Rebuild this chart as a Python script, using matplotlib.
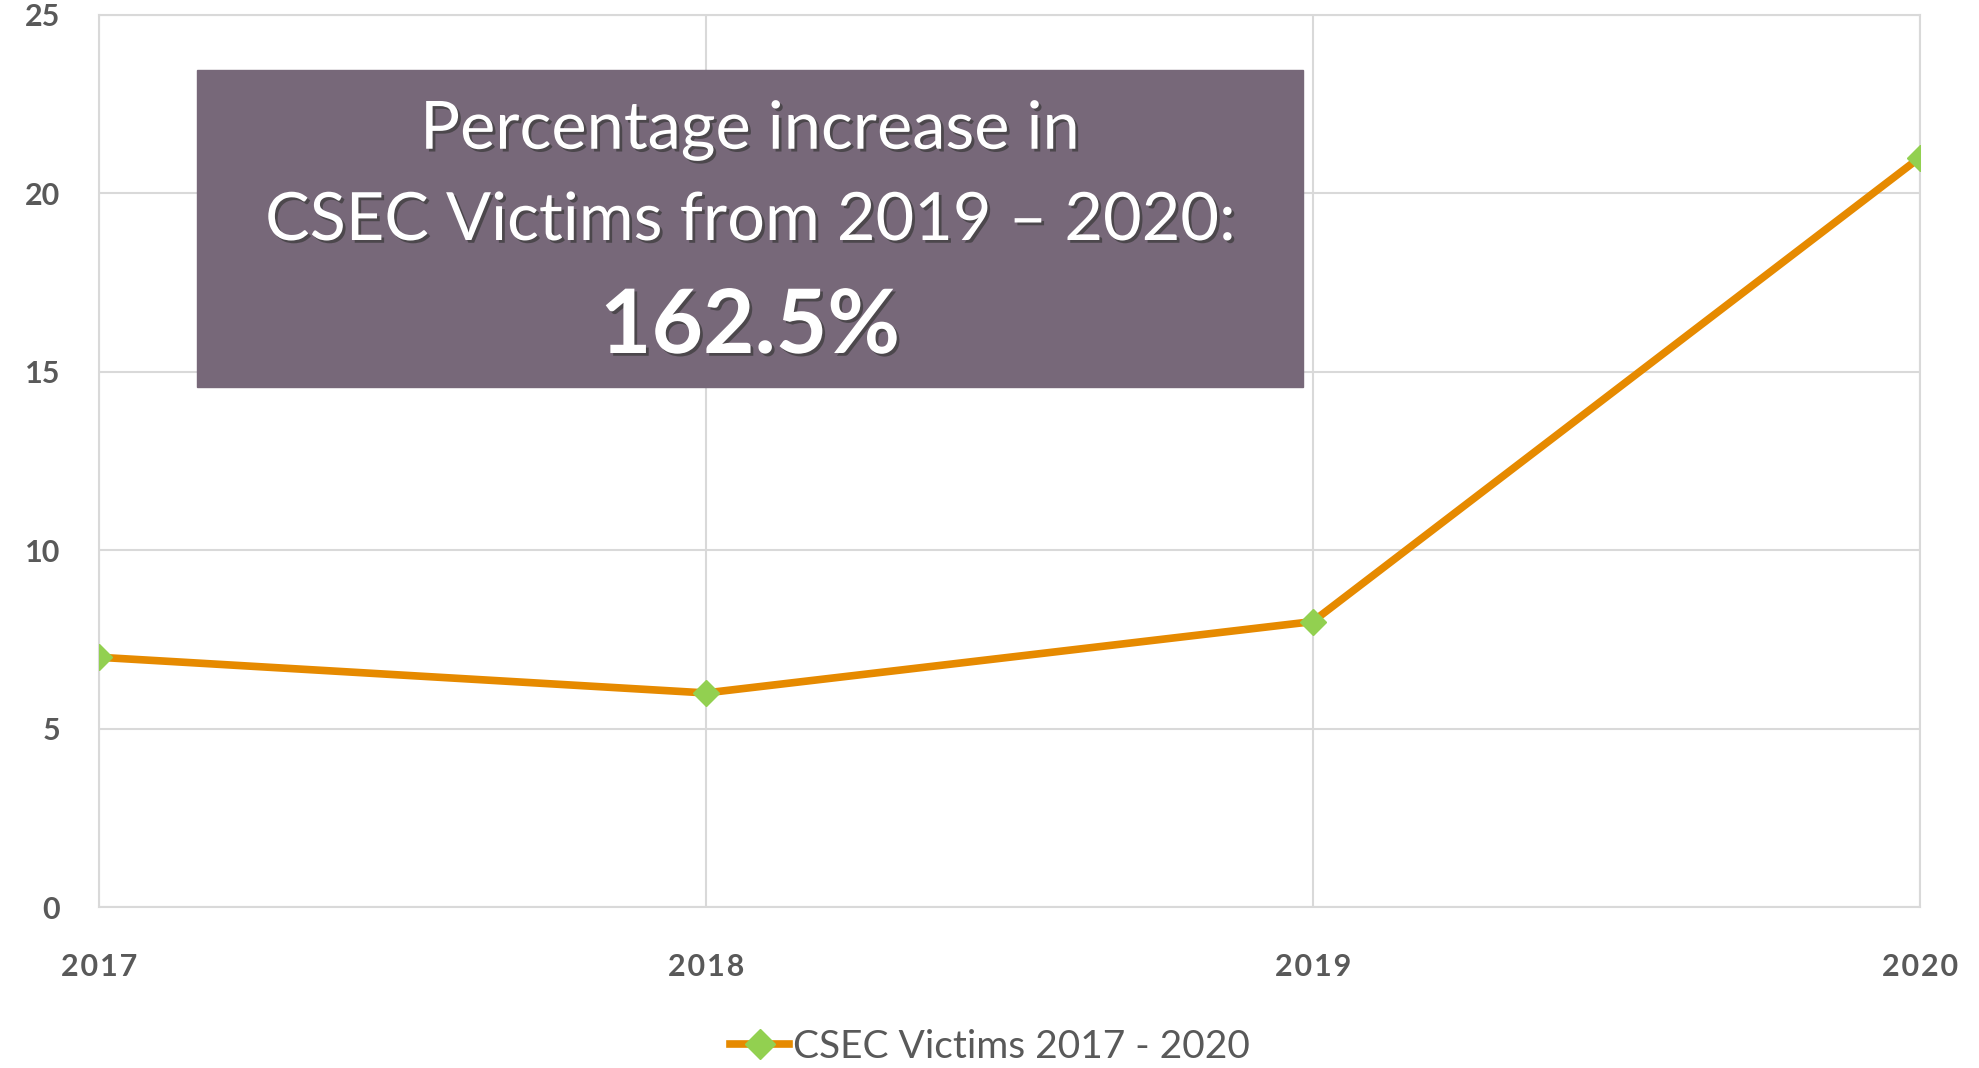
import matplotlib
matplotlib.use("Agg")
import matplotlib.pyplot as plt
import matplotlib.patheffects as pe
from matplotlib.lines import Line2D

# data
years = ["2017", "2018", "2019", "2020"]
victims = [7, 6, 8, 21]
y_ticks = [0, 5, 10, 15, 20, 25]
series_name = "CSEC Victims 2017 - 2020"
box_lines = ["Percentage increase in", "CSEC Victims from 2019 \u2013 2020:"]
box_value = "162.5%"

grid_col = "#D9D9D9"
tick_col = "#595959"
line_col = "#E68A00"
marker_col = "#92D050"
box_col = "#776879"

plt.rcParams['font.family'] = ['Lato', 'DejaVu Sans']

fig = plt.figure(figsize=(19.79, 10.68), dpi=100)
ax = fig.add_axes([0.05, 0.1507, 0.920, 0.8353])

x = list(range(len(years)))
ax.plot(x, victims, color=line_col, lw=5.5, marker='D', ms=13,
        mfc=marker_col, mec=marker_col, zorder=3, solid_capstyle='round')

ax.set_xlim(0, len(years) - 1)
ax.set_ylim(0, 25)
ax.set_xticks(x)
# spaced digits, like the original's wide numerals
ax.set_xticklabels(["\u200a".join(y) for y in years])
ax.set_yticks(y_ticks)
ax.grid(True, color=grid_col, lw=1.5, zorder=0)
for s in ax.spines.values():
    s.set_color(grid_col)
    s.set_linewidth(1.5)
ax.tick_params(axis='both', length=0, colors=tick_col, labelsize=22)
ax.tick_params(axis='y', pad=28)
ax.tick_params(axis='x', pad=33)
for lab in ax.get_xticklabels() + ax.get_yticklabels():
    lab.set_fontweight('bold')

# purple annotation box (figure pixel coords -> fraction)
W, H = 1979, 1068
bx0, by0, bx1, by1 = 197, 70, 1303, 387
fig.patches.append(plt.Rectangle((bx0 / W, 1 - by1 / H), (bx1 - bx0) / W, (by1 - by0) / H,
                                 transform=fig.transFigure, color=box_col, zorder=5))
cx = (bx0 + bx1) / 2 / W
for txt, yy, fw, fs in [(box_lines[0], 130, 'normal', 48), (box_lines[1], 221, 'normal', 48),
                        (box_value, 327, 'bold', 64)]:
    t = fig.text(cx, 1 - yy / H, txt, ha='center', va='center', color='white',
                 fontsize=fs, fontweight=fw, zorder=6)
    t.set_path_effects([pe.withSimplePatchShadow(offset=(2, -2), shadow_rgbFace='#3a3a3a', alpha=0.7)])

handle = Line2D([], [], color=line_col, lw=5.5, marker='D', ms=15, mfc=marker_col, mec=marker_col)
fig.legend([handle], [series_name], loc='center', bbox_to_anchor=(990 / W, 1 - 1047 / H),
           frameon=False, fontsize=28, handlelength=1.5, handletextpad=0.1,
           labelcolor=tick_col)

fig.savefig("out.png", dpi=100)
